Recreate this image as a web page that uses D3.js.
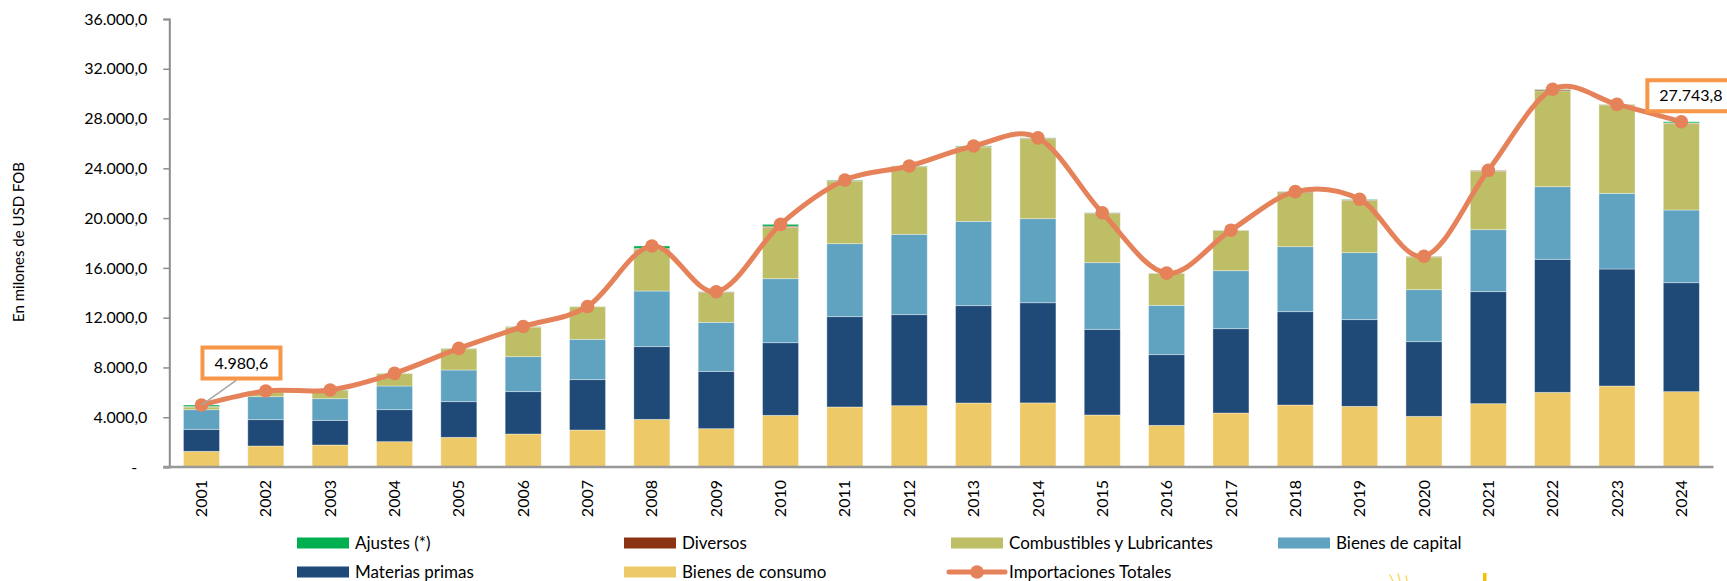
<!DOCTYPE html>
<html>
<head>
<meta charset="utf-8">
<script src="https://cdn.jsdelivr.net/npm/d3@7"></script>
<style>
 body { margin: 0; background: #fff; }
 svg text { font-family: Lato, "Open Sans", sans-serif; fill: #000; }
</style>
</head>
<body>
<div id="chart"></div>
<script>
const years = ["2001","2002","2003","2004","2005","2006","2007","2008","2009","2010","2011","2012",
 "2013","2014","2015","2016","2017","2018","2019","2020","2021","2022","2023","2024"];

const bienesConsumo = [1260,1687,1768,2036,2384,2652,2973,3830,3080,4152,4822,4928,5143,5150,4179,3348,4339,4982,4875,4072,5090,6000,6509,6054];
const materiasPrimas = [1767,2116,1982,2570,2866,3402,4045,5840,4607,5836,7258,7313,7821,8050,6884,5679,6775,7498,6965,5998,9000,10690,9402,8756];
const bienesCapital = [1579,1849,1740,1903,2545,2812,3242,4473,3939,5145,5865,6459,6777,6755,5357,3964,4661,5224,5382,4180,4980,5835,6079,5842];
const combustibles = [216,398,660,991,1705,2384,2620,3357,2394,4127,5045,5430,5979,6425,3950,2559,3225,4346,4198,2630,4690,7705,7110,6968];
const diversos = [40,30,20,15,20,20,10,60,50,90,30,30,30,50,40,20,20,70,50,40,70,90,30,30];
const ajustes = [118,27,20,12,16,20,10,200,10,150,40,30,50,20,20,10,10,10,40,10,10,30,10,94];
const totales = [4980.6,6107,6190,7527,9536,11290,12900,17760,14080,19500,23060,24190,25800,26450,20430,15580,19030,22130,21510,16930,23840,30350,29140,27743.8];

const yTicks = [0,4000,8000,12000,16000,20000,24000,28000,32000,36000];

const series = [
 { key: "consumo", name: "Bienes de consumo", color: "#EDC968", values: bienesConsumo },
 { key: "materias", name: "Materias primas", color: "#1F4A77", values: materiasPrimas },
 { key: "capital", name: "Bienes de capital", color: "#60A3C0", values: bienesCapital },
 { key: "combustibles", name: "Combustibles y Lubricantes", color: "#BDBE66", values: combustibles },
 { key: "diversos", name: "Diversos", color: "#8B3414", values: diversos },
 { key: "ajustes", name: "Ajustes (*)", color: "#00B050", values: ajustes },
];
const lineColor = "#E5825A";

const W = 1727, H = 581;
const plot = { left: 169.3, right: 1713.5, top: 19, bottom: 467 };

const svg = d3.select("#chart").append("svg")
 .attr("width", W).attr("height", H);

const x = d3.scaleBand().domain(years).range([plot.left, plot.right])
 .paddingInner(0.44).paddingOuter(0.22);
const y = d3.scaleLinear().domain([0, 36000]).range([plot.bottom, plot.top]);

const es = d3.formatLocale({ decimal: ",", thousands: ".", grouping: [3], currency: ["", ""] });
const fmt = es.format(",.1f");

// stacked bars
const table = years.map((yr, i) => {
 const row = { year: yr };
 series.forEach(s => row[s.key] = s.values[i]);
 return row;
});
const stack = d3.stack().keys(series.map(s => s.key))(table);

svg.append("g").selectAll("g")
 .data(stack).join("g")
 .attr("fill", (d, i) => series[i].color)
 .selectAll("rect")
 .data(d => d).join("rect")
 .attr("x", d => x(d.data.year))
 .attr("y", d => y(d[1]))
 .attr("width", x.bandwidth())
 .attr("height", d => Math.max(0, y(d[0]) - y(d[1])))
 .attr("stroke", "#ffffff").attr("stroke-opacity", 0.45).attr("stroke-width", 0.8);

// y axis
const yAxis = svg.append("g")
 .attr("transform", `translate(${plot.left},0)`)
 .call(d3.axisLeft(y).tickValues(yTicks).tickSize(6).tickPadding(16)
  .tickFormat(d => d === 0 ? "-" : fmt(d)));
yAxis.select(".domain").attr("stroke", "#8c8c8c").attr("stroke-width", 2);
yAxis.selectAll(".tick line").attr("stroke", "#8c8c8c").attr("stroke-width", 1.5);
yAxis.selectAll(".tick text").attr("font-size", 16).attr("font-family", "Lato, sans-serif").attr("fill", "#000");
yAxis.selectAll(".tick text").filter(d => d === 0).attr("dx", -10);

// x axis
const xAxis = svg.append("g")
 .attr("transform", `translate(0,${plot.bottom})`)
 .call(d3.axisBottom(x).tickSize(0).tickSizeOuter(0).tickPadding(0));
xAxis.select(".domain").attr("stroke", "#999").attr("stroke-width", 2.5)
 .attr("d", `M${plot.left - 6},0H${plot.right}`);
xAxis.selectAll(".tick text")
 .attr("font-size", 16).attr("font-family", "Lato, sans-serif").attr("fill", "#000")
 .attr("transform", "rotate(-90)")
 .attr("text-anchor", "end")
 .attr("x", -13).attr("y", 0).attr("dy", "0.35em");

// total line
const line = d3.line()
 .x((d, i) => x(years[i]) + x.bandwidth() / 2)
 .y(d => y(d))
 .curve(d3.curveCatmullRom.alpha(0));

svg.append("path")
 .datum(totales)
 .attr("fill", "none")
 .attr("stroke", lineColor)
 .attr("stroke-width", 5)
 .attr("stroke-linejoin", "round")
 .attr("d", line);

svg.append("g").selectAll("circle")
 .data(totales).join("circle")
 .attr("cx", (d, i) => x(years[i]) + x.bandwidth() / 2)
 .attr("cy", d => y(d))
 .attr("r", 6.8)
 .attr("fill", lineColor);

// data labels for first and last totals (offsets of the box's left edge from the point)
const labels = [
 { i: 0, dx: 1, dy: -42, w: 78, leader: true },
 { i: totales.length - 1, dx: -34, dy: -26, w: 86, leader: false },
];
labels.forEach(l => {
 const px = x(years[l.i]) + x.bandwidth() / 2;
 const py = y(totales[l.i]);
 const bx = px + l.dx, cy = py + l.dy;
 if (l.leader) {
  svg.append("line")
   .attr("x1", px).attr("y1", py)
   .attr("x2", bx + 34).attr("y2", cy + 17)
   .attr("stroke", "#a6a6a6").attr("stroke-width", 1.5);
 }
 svg.append("rect")
  .attr("x", bx).attr("y", cy - 15.5)
  .attr("width", l.w).attr("height", 31)
  .attr("fill", "#fff")
  .attr("stroke", "#F79646").attr("stroke-width", 4);
 svg.append("text")
  .attr("x", bx + 12).attr("y", cy).attr("dy", "0.35em")
  .attr("text-anchor", "start")
  .attr("font-size", 16)
  .text(fmt(totales[l.i]));
});

// y axis title
svg.append("text")
 .attr("transform", `translate(24,242) rotate(-90)`)
 .attr("text-anchor", "middle")
 .attr("font-size", 15)
 .text("En milones de USD FOB");

// legend
const legendItems = [
 { name: "Ajustes (*)", color: "#00B050", x: 297, y: 543 },
 { name: "Diversos", color: "#8B3414", x: 624, y: 543 },
 { name: "Combustibles y Lubricantes", color: "#BDBE66", x: 951, y: 543 },
 { name: "Bienes de capital", color: "#60A3C0", x: 1278, y: 543 },
 { name: "Materias primas", color: "#1F4A77", x: 297, y: 572 },
 { name: "Bienes de consumo", color: "#EDC968", x: 624, y: 572 },
 { name: "Importaciones Totales", color: lineColor, x: 951, y: 572, line: true },
];
const lg = svg.append("g").selectAll("g").data(legendItems).join("g")
 .attr("transform", d => `translate(${d.x},${d.y})`);
lg.filter(d => !d.line).append("rect")
 .attr("x", 0).attr("y", -5.5).attr("width", 52).attr("height", 11)
 .attr("fill", d => d.color);
lg.filter(d => d.line).append("line")
 .attr("x1", -2).attr("x2", 54).attr("y1", 0).attr("y2", 0)
 .attr("stroke", d => d.color).attr("stroke-width", 5).attr("stroke-linecap", "round");
lg.filter(d => d.line).append("circle")
 .attr("cx", 26).attr("cy", 0).attr("r", 6.8).attr("fill", d => d.color);
lg.append("text")
 .attr("x", 58).attr("y", 0).attr("dy", "0.35em")
 .attr("font-size", 17)
 .text(d => d.name);

// partial logo at bottom edge
const logo = svg.append("g").attr("stroke", "#F2C200").attr("stroke-linecap", "round");
[[1390, 575, 1393, 581], [1398, 574, 1400, 581], [1406, 576, 1407, 581]].forEach(p => {
 logo.append("line").attr("x1", p[0]).attr("y1", p[1]).attr("x2", p[2]).attr("y2", p[3])
  .attr("stroke-width", 1.5).attr("stroke-opacity", 0.6);
});
svg.append("rect").attr("x", 1483).attr("y", 573).attr("width", 3.5).attr("height", 8).attr("fill", "#F2C200");
</script>
</body>
</html>
